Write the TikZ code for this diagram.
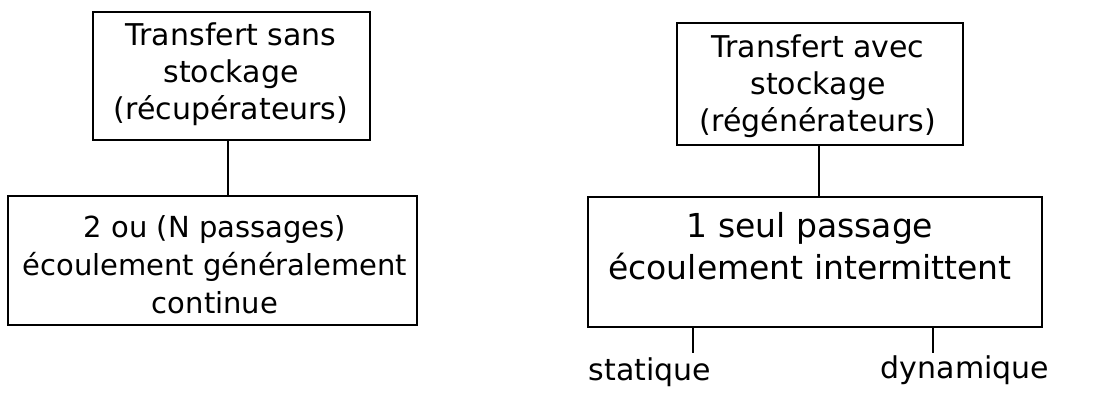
\documentclass[tikz,border=0pt]{standalone}
\usepackage{fontspec}
\setmainfont{DejaVu Sans}
\begin{document}
\begin{tikzpicture}[x=1pt,y=-1pt,
  box/.style={draw,line width=2.6pt,inner sep=0pt},
  hand/.style={font=\fontsize{30}{37}\selectfont,align=center,inner sep=0pt},
  link/.style={line width=2.4pt}]
\useasboundingbox (0,0) rectangle (1112,398);
\node[box,minimum width=277pt,minimum height=128pt] (lt) at (231.5,76) {};
\node[box,minimum width=409pt,minimum height=129pt] (lb) at (212.5,260.5) {};
\node[box,minimum width=286pt,minimum height=122pt] (rt) at (820,84) {};
\node[box,minimum width=454pt,minimum height=130pt] (rb) at (815,262) {};
\node[hand] (ltt) at (231,74) {Transfert sans\\stockage\\(récupérateurs)};
\node[hand,font=\fontsize{29}{38}\selectfont] (lbt) at (215,265) {2 ou (N passages)\\écoulement généralement\\continue};
\node[hand] (rtt) at (818,86) {Transfert avec\\stockage\\(régénérateurs)};
\node[hand,font=\fontsize{33}{42}\selectfont] (rbt) at (810,246) {1 seul passage\\écoulement intermittent};
\coordinate (cl) at (228,0);
\coordinate (cr) at (819,0);
\draw[link] (lt.south -| cl) -- (lb.north -| cl);
\draw[link] (rt.south -| cr) -- (rb.north -| cr);
\coordinate (s1) at (693,353);
\coordinate (d1) at (933,353);
\draw[link] (s1|-rb.south) -- (s1);
\draw[link] (d1|-rb.south) -- (d1);
\node[hand] (st) at (650,372) {statique};
\node[hand] (dy) at (965,370) {dynamique};
\end{tikzpicture}
\end{document}
